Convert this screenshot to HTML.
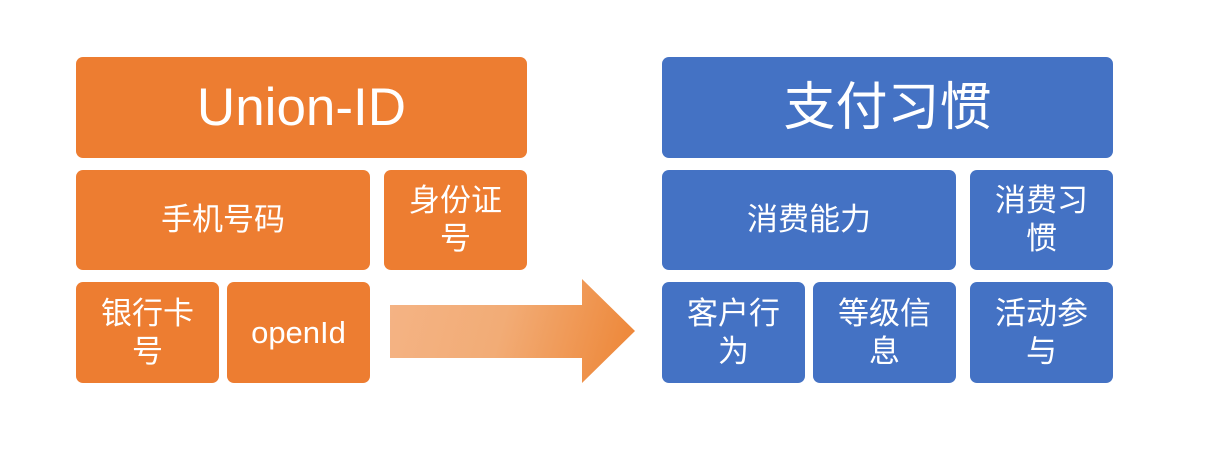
<!DOCTYPE html>
<html><head><meta charset="utf-8"><style>
body{margin:0;width:1207px;height:460px;background:#fff;position:relative;overflow:hidden;font-family:"Liberation Sans","Noto Sans CJK SC",sans-serif;}
.b{position:absolute;border-radius:7px;color:#fff;display:flex;align-items:center;justify-content:center;text-align:center;font-size:31px;line-height:38px;}
.o{background:#ED7D31}.u{background:#4472C4}
</style></head><body>
<div class="b o" style="left:76px;top:57px;width:451px;height:101px;font-size:53px">Union-ID</div>
<div class="b o" style="left:76px;top:170px;width:294px;height:100px">手机号码</div>
<div class="b o" style="left:384px;top:170px;width:143px;height:100px">身份证<br>号</div>
<div class="b o" style="left:76px;top:282px;width:143px;height:101px">银行卡<br>号</div>
<div class="b o" style="left:227px;top:282px;width:143px;height:101px">openId</div>
<svg style="position:absolute;left:0;top:0" width="1207" height="460">
<defs><linearGradient id="g" x1="390" y1="300" x2="635" y2="370" gradientUnits="userSpaceOnUse"><stop offset="0" stop-color="#F4B384"/><stop offset="0.45" stop-color="#F2AC76"/><stop offset="1" stop-color="#ED8535"/></linearGradient></defs>
<polygon points="390,305 582,305 582,279 635,331 582,383 582,358 390,358" fill="url(#g)"/>
</svg>
<div class="b u" style="left:662px;top:57px;width:451px;height:101px;font-size:52px">支付习惯</div>
<div class="b u" style="left:662px;top:170px;width:294px;height:100px">消费能力</div>
<div class="b u" style="left:970px;top:170px;width:143px;height:100px">消费习<br>惯</div>
<div class="b u" style="left:662px;top:282px;width:143px;height:101px">客户行<br>为</div>
<div class="b u" style="left:813px;top:282px;width:143px;height:101px">等级信<br>息</div>
<div class="b u" style="left:970px;top:282px;width:143px;height:101px">活动参<br>与</div>
</body></html>
